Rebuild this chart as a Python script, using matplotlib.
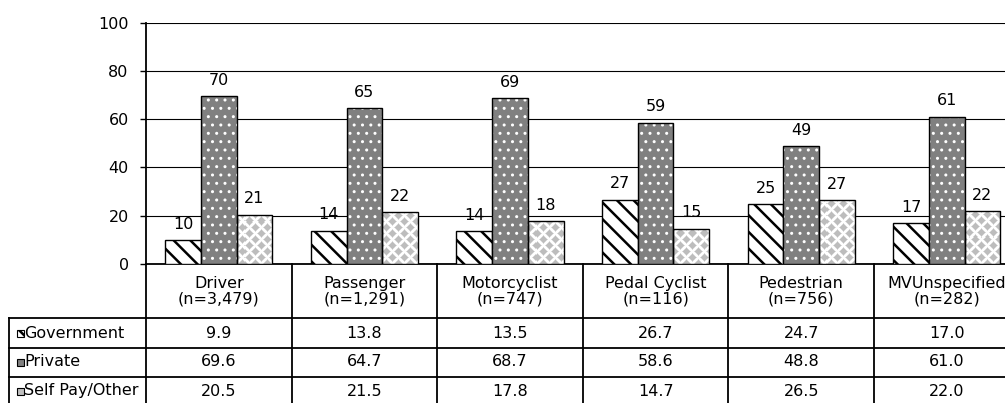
import numpy as np
import matplotlib.pyplot as plt
from matplotlib.colors import LinearSegmentedColormap
from matplotlib.lines import Line2D
from matplotlib.patches import Rectangle
from matplotlib import transforms

categories = ["Driver", "Passenger", "Motorcyclist", "Pedal Cyclist", "Pedestrian", "MVUnspecified"]
counts = ["3,479", "1,291", "747", "116", "756", "282"]
government = [9.9, 13.8, 13.5, 26.7, 24.7, 17.0]
private = [69.6, 64.7, 68.7, 58.6, 48.8, 61.0]
self_pay = [20.5, 21.5, 17.8, 14.7, 26.5, 22.0]
series_names = ["Government", "Private", "Self Pay/Other"]
y_ticks = [0, 20, 40, 60, 80, 100]

W, H = 1005, 403
plt.rcParams["font.family"] = "DejaVu Sans"
plt.rcParams["font.size"] = 11.5
plt.rcParams["hatch.linewidth"] = 1.8


def fx(px):
    return px / W


def fy(py):
    return 1 - py / H


def excel_round(val):
    # round half up, like the spreadsheet labels (20.5 -> 21)
    return int(np.floor(val + 0.5))


fig = plt.figure(figsize=(W / 100, H / 100), dpi=100)
ax_left, ax_bottom, ax_top, col_w = 146, 264, 22.7, 145.6
ax = fig.add_axes([fx(ax_left), fy(ax_bottom), 6 * col_w / W, (ax_bottom - ax_top) / H])

x = np.arange(len(categories))
w = 0.245

# government: black diagonal stripes
gov = ax.bar(x - w, government, w, facecolor="white", edgecolor="black",
             hatch="\\\\", linewidth=1.0, zorder=3)

# private: grey with white dots, outline drawn separately
priv = ax.bar(x, private, w, color="#808080", edgecolor="white", hatch="..",
              linewidth=0, zorder=3)
for p in priv:
    if hasattr(p, "set_hatch_linewidth"):
        p.set_hatch_linewidth(1.0)
ax.bar(x, private, w, fill=False, edgecolor="black", linewidth=1.0, zorder=4)

# self pay: light grey diamonds, pattern image clipped to each bar
sp = ax.bar(x + w, self_pay, w, facecolor="white", linewidth=0, zorder=3)
rows, cols = int(ax_bottom - ax_top), int(6 * col_w)
jj, ii = np.meshgrid(np.arange(cols), np.arange(rows))
u = np.abs((jj + ii + 6) % 12 - 6)
v = np.abs((jj - ii + 6) % 12 - 6)
d = np.maximum(u, v)
diamonds = np.where(d <= 3, 1.0, np.where(d == 4, 0.5, 0.0))
diamond_cmap = LinearSegmentedColormap.from_list("dia", ["white", "#bdbdbd"])
for p in sp:
    im = ax.imshow(diamonds, extent=(-0.5, 5.5, 0, 100), aspect="auto",
                   cmap=diamond_cmap, interpolation="nearest", zorder=3.5)
    im.set_clip_path(p)
ax.bar(x + w, self_pay, w, fill=False, edgecolor="black", linewidth=1.0, zorder=4)

for xs, vals in [(x - w, government), (x, private), (x + w, self_pay)]:
    for xi, val in zip(xs, vals):
        ax.annotate(f"{excel_round(val)}", (xi, val), xytext=(0, 6), textcoords="offset points",
                    ha="center", va="bottom")

ax.set_xlim(-0.5, 5.5)
ax.set_ylim(0, 100)
ax.set_yticks(y_ticks)
ax.set_xticks([])
ax.grid(axis="y", color="black", linewidth=0.8, zorder=0)
ax.set_axisbelow(True)
ax.tick_params(axis="y", direction="out", length=4.5, width=1.0, pad=8)
for side in ["top", "right"]:
    ax.spines[side].set_visible(False)
ax.spines["left"].set_linewidth(1.3)
ax.spines["bottom"].set_linewidth(1.3)

# data table below the plot
blend = transforms.blended_transform_factory(ax.transData, fig.transFigure)
row_lines = [318.3, 347.7, 377.3]
row_centers = [333, 362, 391]

for b in np.arange(-0.5, len(categories), 1.0):
    fig.add_artist(Line2D([b, b], [fy(ax_bottom), fy(H + 5)], transform=blend,
                          color="black", linewidth=1.3))
for ry in row_lines:
    fig.add_artist(Line2D([fx(9), 1.05], [fy(ry), fy(ry)], transform=fig.transFigure,
                          color="black", linewidth=1.3))
fig.add_artist(Line2D([fx(9), fx(9)], [fy(row_lines[0]), fy(H + 5)],
                      transform=fig.transFigure, color="black", linewidth=1.3))

for i, (cat, n) in enumerate(zip(categories, counts)):
    fig.text(i, fy(291), f"{cat}\n(n={n})", transform=blend, ha="center", va="center",
             linespacing=1.05)

key_styles = [
    dict(facecolor="white", hatch="\\\\\\"),
    dict(facecolor="#808080"),
    dict(facecolor="#c0c0c0"),
]
for r, (name, vals) in enumerate(zip(series_names, [government, private, self_pay])):
    cy = row_centers[r]
    fig.add_artist(Rectangle((fx(16.5), fy(cy + 3.5)), fx(7), 7 / H, transform=fig.transFigure,
                             edgecolor="black", linewidth=0.8, **key_styles[r]))
    fig.text(fx(24), fy(cy), name, ha="left", va="center")
    for i, val in enumerate(vals):
        fig.text(i, fy(cy), f"{val:.1f}", transform=blend, ha="center", va="center")

fig.savefig("out.png", dpi=100)
